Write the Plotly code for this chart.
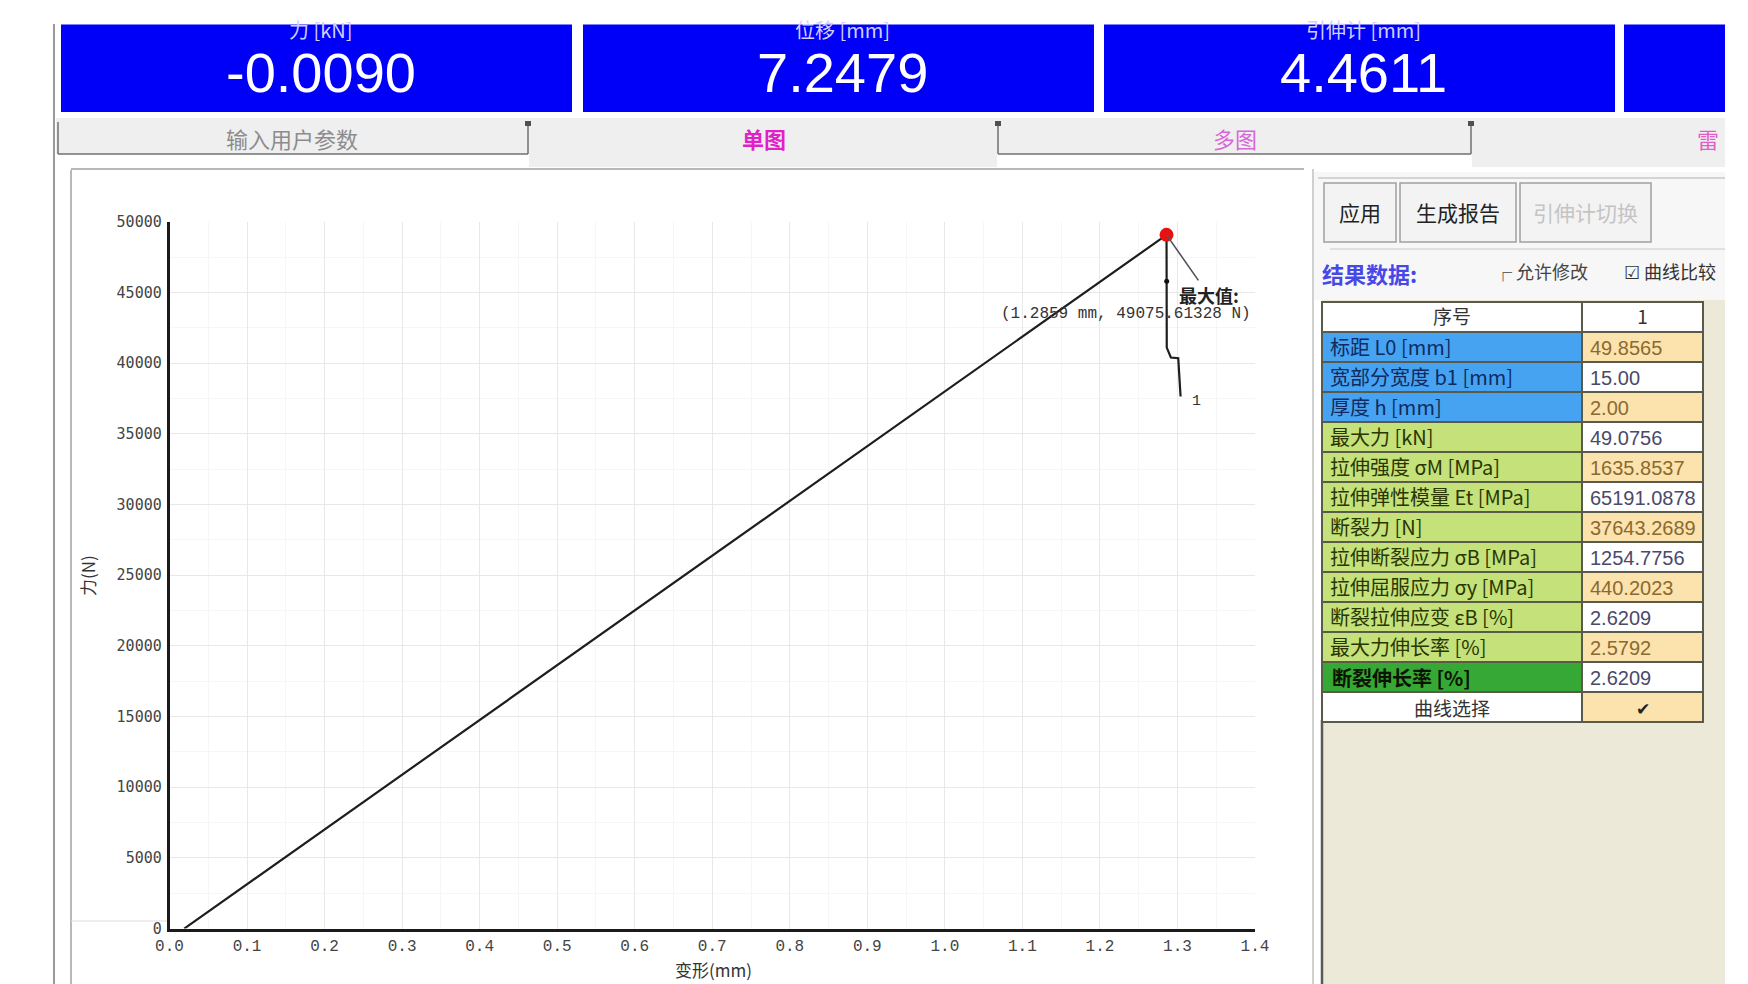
import plotly.graph_objects as go

W, H = 1748, 984
OFF = 8  # the page body margin shifts the figure; positions below are screen pixels

# ---------------- data ----------------
deformation_mm = [0.019, 1.2859, 1.2862, 1.2915, 1.3010, 1.3040]
force_N = [0, 49075.61328, 41100, 40400, 40350, 37643.2689]
peak_x, peak_y = 1.2859, 49075.61328
mark_x, mark_y = 1.2861, 45800

x_ticks = [0.0, 0.1, 0.2, 0.3, 0.4, 0.5, 0.6, 0.7, 0.8, 0.9, 1.0, 1.1, 1.2, 1.3, 1.4]
y_ticks = [0, 5000, 10000, 15000, 20000, 25000, 30000, 35000, 40000, 45000, 50000]

panel_titles = ["力 [kN]", "位移 [mm]", "引伸计 [mm]"]
panel_values = ["-0.0090", "7.2479", "4.4611"]

tab_labels = ["输入用户参数", "单图", "多图", "雷"]

table_labels = ["标距 L0 [mm]", "宽部分宽度 b1 [mm]", "厚度 h [mm]", "最大力 [kN]",
                "拉伸强度 σM [MPa]", "拉伸弹性模量 Et [MPa]", "断裂力 [N]",
                "拉伸断裂应力 σB [MPa]", "拉伸屈服应力 σy [MPa]", "断裂拉伸应变 εB [%]",
                "最大力伸长率 [%]", "断裂伸长率 [%]", "曲线选择"]
table_values = ["49.8565", "15.00", "2.00", "49.0756", "1635.8537", "65191.0878",
                "37643.2689", "1254.7756", "440.2023", "2.6209", "2.5792", "2.6209", "✔"]

# ---------------- helpers (screen pixel -> paper) ----------------
def px(x):
    return (x - OFF) / W

def py(y):
    return 1 - (y - OFF) / H

CJK = "Noto Sans CJK SC"
annotations = []
shapes = []

def note(x, y, text, size, color, family=CJK, xanchor="center", yanchor="middle", **kw):
    annotations.append(dict(x=px(x), y=py(y), xref="paper", yref="paper", text=text,
                            showarrow=False, xanchor=xanchor, yanchor=yanchor,
                            font=dict(family=family, size=size, color=color), **kw))

def rect(x0, y0, x1, y1, fill, line=None):
    shapes.append(dict(type="rect", xref="paper", yref="paper", x0=px(x0), x1=px(x1),
                       y0=py(y1), y1=py(y0), fillcolor=fill,
                       line=line if line else dict(width=0), layer="below"))

def seg(x0, y0, x1, y1, color, width):
    shapes.append(dict(type="line", xref="paper", yref="paper", x0=px(x0), x1=px(x1),
                       y0=py(y0), y1=py(y1), line=dict(color=color, width=width),
                       layer="below"))

fig = go.Figure()

# main curve
fig.add_trace(go.Scatter(x=deformation_mm, y=force_N, mode="lines",
                         line=dict(color="#1e1e1e", width=2.2), hoverinfo="skip"))
fig.add_trace(go.Scatter(x=[mark_x], y=[mark_y], mode="markers",
                         marker=dict(color="#111", size=5), hoverinfo="skip"))
fig.add_trace(go.Scatter(x=[peak_x], y=[peak_y], mode="markers",
                         marker=dict(color="#e81010", size=14), hoverinfo="skip"))

# ---------------- table ----------------
blue, lgreen, dgreen, orange, white = "#45a3f2", "#c4e17a", "#36a836", "#fce2ad", "#ffffff"
label_fill = [blue] * 3 + [lgreen] * 8 + [dgreen, white]
value_fill = [orange if i % 2 == 0 else white for i in range(13)]
label_color = ["#102a60"] * 3 + ["#2a3600"] * 8 + ["#0a1a00", "#333"]
value_color = ["#8a6a30" if i % 2 == 0 else "#4a4a6a" for i in range(13)]

TAB_L, TAB_SPLIT, TAB_R = 1322, 1582, 1703
TAB_TOP, ROW_H = 302, 30
fig.add_trace(go.Table(
    domain=dict(x=[px(TAB_L), px(TAB_R)], y=[py(TAB_TOP + 14 * ROW_H + 4), py(TAB_TOP)]),
    columnwidth=[TAB_SPLIT - TAB_L, TAB_R - TAB_SPLIT],
    header=dict(values=["序号", "1"], fill_color="white", align="center",
                line=dict(color="#5a5a4a", width=1.5), height=ROW_H,
                font=dict(family=CJK, size=19, color="#333")),
    cells=dict(values=[table_labels[:-2] + ["", ""], table_values[:-1] + [""]],
               fill_color=[label_fill, value_fill],
               align="left",
               line=dict(color="#5a5a4a", width=1.5), height=ROW_H,
               font=dict(family=[CJK, "Liberation Sans"], size=[20, 20],
                         color=[label_color, value_color])),
))

# rows of the table drawn as annotations (bold / centred ones)
row12_y = TAB_TOP + 12 * ROW_H + ROW_H / 2
row13_y = TAB_TOP + 13 * ROW_H + ROW_H / 2
note(TAB_L + 8, row12_y, f"<b>{table_labels[-2]}</b>", 20, "#0a1400", xanchor="left")
note((TAB_L + TAB_SPLIT) / 2, row13_y, table_labels[-1], 19, "#333")
note((TAB_SPLIT + TAB_R) / 2, row13_y, table_values[-1], 17, "#222")

# outer left line
seg(54, 24, 54, H + OFF, "#9a9a9a", 2)

# blue readout panels
panels = [(61, 572), (583, 1094), (1104, 1615), (1624, 1725)]
for (a, b) in panels:
    rect(a, 24.5, b, 112, "#0000f8")
for i, (t, v) in enumerate(zip(panel_titles, panel_values)):
    a, b = panels[i]
    cx = (a + b) / 2 + 4
    note(cx, 29, t, 20, "#d0d0ff")
    note(cx, 72, v, 56, "white", family="Liberation Sans")

# tab bar
rect(56, 118, 1725, 154, "#efefef")
rect(529, 154, 997, 167, "#efefef")
rect(1472, 154, 1725, 167, "#efefef")
for (x0, y0, x1, y1) in [(58, 122, 58, 154), (58, 154, 528, 154), (528, 122, 528, 154),
                         (998, 122, 998, 154), (998, 154, 1471, 154), (1471, 122, 1471, 154)]:
    seg(x0, y0, x1, y1, "#707070", 1.5)
for xm in [528, 998, 1471]:
    rect(xm - 3, 121, xm + 3, 126, "#505050")
tab_pos = [(292, "#8c8c8c", False), (764, "#e020c8", True), (1235, "#d868d8", False),
           (1708, "#e060c8", False)]
for lab, (cx, col, bold) in zip(tab_labels, tab_pos):
    note(cx, 138, f"<b>{lab}</b>" if bold else lab, 22, col)

# chart panel border
seg(71, 169, 1304, 169, "#b8b8b8", 2)
seg(71, 170, 71, H + OFF, "#b8b8b8", 2)
seg(71, 921, 169, 921, "#dddddd", 1)

# right panel
seg(1313, 169, 1313, H + OFF, "#d0d0d0", 2)
rect(1314, 172, 1725, 300, "#f7f7f7")
seg(1318, 178, 1725, 178, "#c8c8c8", 1.5)
seg(1330, 249, 1725, 249, "#d8d8d8", 1.5)
rect(1322, 300, 1725, H + OFF, "#ece9d9")
seg(1322, 720, 1322, H + OFF, "#5a5a5a", 2.5)

# buttons
buttons = [("应用", 1322, 1398, "#222"), ("生成报告", 1398, 1518, "#222"),
           ("引伸计切换", 1518, 1653, "#c4c4c4")]
for (t, a, b, c) in buttons:
    rect(a + 2, 183, b - 2, 242, "#f3f3f3", line=dict(color="#a0a0a0", width=1.5))
    note((a + b) / 2, 212, t, 21, c)

note(1320, 273, "<b>结果数据:</b>", 22, "#4848e8", xanchor="left")
note(1492, 271, "┌ 允许修改", 18, "#444", xanchor="left")
note(1622, 271, "☑ 曲线比较", 18, "#333", xanchor="left")

# peak annotations
annotations.append(dict(x=peak_x, y=peak_y, xref="x", yref="y", text="<b>最大值:</b>",
                        showarrow=True, arrowhead=0, arrowwidth=1.6, arrowcolor="#5a5060",
                        ax=42, ay=60, xanchor="center", yanchor="middle",
                        font=dict(family=CJK, size=18, color="#222")))
note(1126, 314, "(1.2859 mm, 49075.61328 N)", 16, "#333", family="Liberation Mono")
note(1196, 401, "1", 15, "#333", family="Liberation Mono")
# axis titles
note(713, 969, "变形(mm)", 17, "#333")
note(87, 576, "力(N)", 17, "#333", textangle=-90)

fig.update_layout(
    width=W, height=H, margin=dict(l=0, r=0, t=0, b=0, pad=0, autoexpand=False),
    paper_bgcolor="white", plot_bgcolor="white", showlegend=False,
    shapes=shapes, annotations=annotations,
    xaxis=dict(domain=[px(169.5), px(1255)], range=[0, 1.4], tickvals=x_ticks,
               ticktext=[f"{v:.1f}" for v in x_ticks], showline=True, linecolor="#1a1a1a",
               linewidth=2.5, gridcolor="#e8e8e8", gridwidth=1, zeroline=False,
               minor=dict(dtick=0.05, showgrid=True, gridcolor="#f6f6f6"),
               ticks="", ticklabelstandoff=0,
               tickfont=dict(family="Liberation Mono", size=16, color="#444")),
    yaxis=dict(domain=[py(928.6), py(221.8)], range=[0, 50000], tickvals=y_ticks,
               tickformat="d",
               showline=True, linecolor="#1a1a1a", linewidth=2.5, gridcolor="#e8e8e8",
               gridwidth=1, zeroline=False,
               minor=dict(dtick=2500, showgrid=True, gridcolor="#f6f6f6"),
               ticks="", ticklabelstandoff=2,
               tickfont=dict(family="DejaVu Sans Mono", size=15, color="#444")),
)

fig.write_html("out.html")
